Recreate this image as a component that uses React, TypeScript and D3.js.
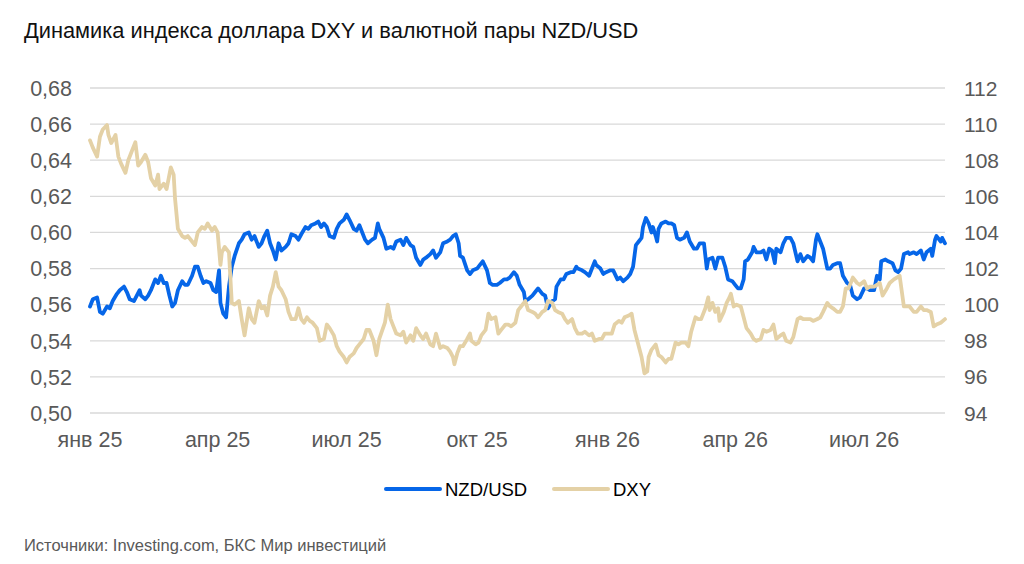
import React from 'react';
import * as d3 from 'd3';

// ---------- DATA ----------
// [days since 2025-01-01, value]
const nzdUsd: [number, number][] = [
  [0,0.559],[2,0.563],[5,0.564],[7,0.556],[9,0.555],[12,0.559],[14,0.558],[16,0.562],[19,0.566],[21,0.568],[24,0.570],[26,0.567],[28,0.563],[31,0.562],[33,0.565],[35,0.568],[36,0.565],[39,0.563],[41,0.565],[43,0.568],[46,0.574],[48,0.572],[50,0.576],[52,0.572],[54,0.572],[56,0.565],[58,0.559],[60,0.561],[62,0.568],[65,0.573],[67,0.571],[69,0.571],[72,0.576],[74,0.581],[76,0.581],[78,0.576],[80,0.572],[82,0.573],[85,0.572],[87,0.568],[89,0.567],[91,0.579],[92,0.561],[94,0.555],[96,0.553],[98,0.570],[100,0.581],[102,0.587],[105,0.594],[107,0.596],[109,0.599],[112,0.600],[114,0.596],[116,0.598],[119,0.592],[121,0.594],[123,0.598],[125,0.601],[127,0.594],[129,0.590],[131,0.585],[133,0.594],[135,0.590],[138,0.592],[140,0.594],[142,0.599],[145,0.598],[147,0.596],[149,0.599],[152,0.603],[154,0.602],[156,0.604],[159,0.605],[161,0.606],[163,0.603],[165,0.605],[167,0.603],[169,0.598],[172,0.597],[174,0.602],[176,0.605],[179,0.607],[181,0.610],[183,0.607],[186,0.602],[188,0.601],[190,0.604],[192,0.600],[194,0.596],[196,0.594],[199,0.596],[201,0.597],[203,0.605],[204,0.602],[207,0.597],[209,0.591],[212,0.592],[214,0.591],[216,0.595],[219,0.596],[221,0.593],[223,0.597],[226,0.593],[228,0.592],[230,0.586],[233,0.582],[235,0.585],[237,0.586],[240,0.588],[242,0.590],[244,0.586],[247,0.589],[249,0.594],[252,0.595],[254,0.596],[256,0.598],[258,0.599],[260,0.594],[261,0.587],[263,0.586],[266,0.579],[268,0.577],[270,0.579],[273,0.580],[275,0.582],[277,0.584],[280,0.579],[282,0.572],[284,0.571],[287,0.571],[289,0.572],[292,0.574],[294,0.574],[296,0.575],[299,0.578],[301,0.576],[303,0.571],[306,0.567],[307,0.562],[309,0.563],[312,0.565],[314,0.567],[316,0.569],[319,0.566],[321,0.565],[323,0.558],[326,0.562],[328,0.563],[329,0.570],[332,0.574],[334,0.574],[336,0.577],[339,0.578],[341,0.578],[343,0.581],[344,0.580],[347,0.579],[349,0.578],[352,0.576],[354,0.580],[356,0.584],[357,0.582],[360,0.580],[362,0.577],[364,0.578],[367,0.579],[369,0.579],[372,0.574],[374,0.575],[376,0.573],[379,0.575],[381,0.577],[383,0.581],[385,0.593],[387,0.595],[389,0.597],[390,0.603],[392,0.608],[394,0.605],[396,0.600],[397,0.603],[399,0.598],[400,0.595],[401,0.602],[403,0.605],[406,0.606],[408,0.605],[410,0.605],[412,0.604],[414,0.597],[416,0.596],[419,0.597],[421,0.600],[423,0.595],[426,0.591],[428,0.591],[430,0.594],[433,0.594],[435,0.580],[436,0.585],[439,0.586],[441,0.580],[443,0.586],[446,0.586],[448,0.581],[450,0.574],[453,0.573],[455,0.571],[457,0.569],[459,0.569],[461,0.574],[462,0.584],[464,0.585],[467,0.589],[468,0.592],[470,0.589],[473,0.589],[475,0.590],[477,0.585],[479,0.591],[481,0.590],[483,0.583],[484,0.591],[487,0.589],[489,0.594],[491,0.597],[494,0.597],[496,0.594],[499,0.584],[501,0.588],[503,0.584],[506,0.587],[508,0.586],[510,0.584],[512,0.596],[513,0.599],[515,0.595],[517,0.591],[520,0.580],[522,0.580],[524,0.582],[527,0.583],[529,0.583],[531,0.576],[534,0.572],[536,0.571],[538,0.565],[541,0.563],[543,0.564],[546,0.569],[548,0.569],[550,0.568],[553,0.568],[555,0.576],[557,0.574],[558,0.584],[561,0.585],[563,0.584],[566,0.583],[568,0.579],[570,0.578],[572,0.580],[574,0.588],[577,0.589],[578,0.588],[581,0.589],[583,0.588],[586,0.590],[588,0.585],[590,0.589],[593,0.591],[594,0.587],[596,0.596],[597,0.598],[600,0.595],[601,0.597],[603,0.594]
];

const dxy: [number, number][] = [
  [0,109.1],[2,108.7],[5,108.2],[7,109.3],[9,109.7],[12,109.95],[13,109.4],[15,108.95],[18,109.4],[20,108.2],[22,107.8],[25,107.3],[27,108.0],[29,108.4],[32,109.0],[34,107.7],[36,107.9],[39,108.3],[41,107.9],[43,107.0],[46,106.6],[48,107.2],[49,106.4],[52,106.7],[54,106.4],[57,107.6],[59,107.2],[60,105.85],[62,104.2],[65,103.8],[67,103.7],[69,103.8],[72,103.5],[74,103.3],[76,104.0],[79,104.3],[81,104.2],[83,104.5],[86,104.1],[88,104.3],[90,104.0],[92,102.2],[93,102.9],[95,103.2],[98,102.9],[100,100.1],[102,100.0],[105,100.2],[107,99.2],[109,98.3],[112,99.8],[114,99.2],[116,99.0],[119,100.2],[121,99.8],[123,99.9],[125,99.4],[127,100.5],[129,101.0],[131,101.8],[133,101.0],[135,100.8],[138,100.3],[140,99.6],[142,99.2],[145,99.2],[147,99.8],[149,99.2],[151,99.0],[153,99.3],[155,99.1],[157,99.0],[160,98.7],[162,98.0],[165,98.1],[167,98.9],[169,98.7],[172,98.3],[174,97.7],[176,97.4],[179,97.1],[181,96.8],[183,97.1],[186,97.3],[188,97.6],[190,97.8],[193,98.1],[195,98.6],[197,98.6],[200,98.0],[202,97.2],[204,98.1],[208,99.0],[210,100.0],[212,99.2],[214,98.8],[216,98.4],[219,98.3],[221,98.5],[223,97.9],[226,98.3],[228,98.0],[230,98.7],[233,98.3],[235,98.1],[237,98.4],[240,97.8],[242,97.7],[244,98.4],[247,97.6],[249,97.7],[252,97.6],[254,97.4],[256,97.1],[257,96.7],[259,97.3],[261,97.7],[263,97.7],[266,98.1],[268,98.4],[269,98.0],[272,97.8],[274,97.9],[276,98.3],[279,98.6],[281,99.5],[283,99.2],[286,99.3],[288,98.4],[290,98.6],[293,98.9],[295,98.9],[297,98.8],[300,99.0],[302,99.7],[304,99.9],[307,100.2],[309,99.7],[312,99.6],[314,99.5],[316,99.3],[319,99.6],[321,99.7],[323,100.2],[326,100.1],[328,99.7],[330,99.6],[333,99.5],[335,99.2],[337,99.0],[340,99.2],[342,98.7],[344,98.4],[347,98.4],[349,98.5],[352,98.3],[354,98.4],[356,98.0],[359,98.1],[361,98.1],[363,98.4],[366,98.4],[368,98.4],[370,98.9],[373,99.1],[375,99.0],[377,99.3],[380,99.4],[382,99.5],[384,98.6],[387,97.7],[389,97.1],[391,96.2],[393,96.3],[394,97.1],[396,97.5],[399,97.8],[401,97.2],[403,97.1],[406,96.8],[408,97.0],[410,97.0],[413,97.9],[415,97.8],[417,97.9],[420,97.9],[422,97.7],[424,98.5],[427,99.3],[429,99.2],[431,99.2],[434,99.8],[436,100.4],[437,99.7],[439,100.1],[441,99.6],[443,99.8],[444,99.1],[447,99.6],[449,100.1],[451,100.4],[452,100.6],[454,99.9],[456,100.0],[459,99.9],[461,99.3],[463,98.7],[466,98.4],[468,98.1],[470,98.0],[473,98.1],[475,98.6],[477,98.5],[480,98.6],[482,98.9],[484,98.1],[487,98.3],[489,98.4],[491,98.0],[494,97.9],[496,98.2],[499,99.2],[501,99.3],[503,99.2],[506,99.2],[508,99.2],[510,99.1],[513,99.2],[515,99.3],[517,99.6],[520,100.1],[522,99.9],[524,99.8],[527,99.6],[529,99.6],[531,99.9],[533,100.9],[535,100.9],[537,101.3],[538,101.5],[541,101.2],[543,101.1],[546,101.3],[548,100.9],[550,101.0],[553,101.0],[555,101.1],[557,101.2],[559,100.5],[562,100.9],[564,101.2],[567,101.4],[569,101.5],[571,101.6],[574,99.9],[576,99.9],[578,99.9],[581,99.6],[583,99.6],[586,99.9],[588,99.7],[590,99.7],[593,99.6],[595,98.8],[597,98.9],[600,99.0],[603,99.2]
];

const xTickDates = ['2025-01-01', '2025-04-01', '2025-07-01', '2025-10-01', '2026-01-01', '2026-04-01', '2026-07-01'];
const xTickLabels = ['янв 25', 'апр 25', 'июл 25', 'окт 25', 'янв 26', 'апр 26', 'июл 26'];
const leftDomain: [number, number] = [0.5, 0.68];
const rightDomain: [number, number] = [94, 112];
const seriesNames = ['NZD/USD', 'DXY'];

const TITLE = 'Динамика индекса доллара DXY и валютной пары NZD/USD';
const SOURCE = 'Источники: Investing.com, БКС Мир инвестиций';

// ---------- STYLE ----------
const W = 1024, H = 564;
const M = { left: 90, right: 945, top: 88, bottom: 413 };
const BLUE = '#0666e8';
const TAN = '#e4d1a6';
const GRID = '#d9d9d9';
const AXIS_TXT = '#595959';
const FONT = '"Liberation Sans", Arial, sans-serif';

const dayToDate = (d: number) => new Date(2025, 0, 1 + d);
const parseDate = (s: string) => {
  const [y, m, d] = s.split('-').map(Number);
  return new Date(y, m - 1, d);
};

export default function App() {
  const endDay = nzdUsd[nzdUsd.length - 1][0];
  const x = d3.scaleTime().domain([dayToDate(0), dayToDate(endDay)]).range([M.left, M.right]);
  const yL = d3.scaleLinear().domain(leftDomain).range([M.bottom, M.top]);
  const yR = d3.scaleLinear().domain(rightDomain).range([M.bottom, M.top]);

  const lineL = d3.line<[number, number]>().x(d => x(dayToDate(d[0]))).y(d => yL(d[1]));
  const lineR = d3.line<[number, number]>().x(d => x(dayToDate(d[0]))).y(d => yR(d[1]));

  const leftTicks = yL.ticks(9);
  const rightTicks = yR.ticks(9);
  const fmtL = (v: number) => d3.format('.2f')(v).replace('.', ',');

  return (
    <svg width={W} height={H} style={{ position: 'fixed', left: 0, top: 0, background: '#fff' }} fontFamily={FONT}>
      <rect x={0} y={0} width={W} height={H} fill="#fff" />
      <text x={24} y={38} fontSize={21.8} fill="#111">{TITLE}</text>

      {leftTicks.map((t, i) => (
        <line key={'g' + i} x1={M.left} x2={M.right} y1={yL(t)} y2={yL(t)} stroke={GRID} strokeWidth={1.3} />
      ))}
      {leftTicks.map((t, i) => (
        <text key={'l' + i} x={72} y={yL(t)} dy="0.36em" textAnchor="end" fontSize={21.5} fill={AXIS_TXT}>{fmtL(t)}</text>
      ))}
      {rightTicks.map((t, i) => (
        <text key={'r' + i} x={964} y={yR(t)} dy="0.36em" textAnchor="start" fontSize={21} fill={AXIS_TXT}>{t}</text>
      ))}
      {xTickDates.map((d, i) => (
        <text key={'x' + i} x={x(parseDate(d))} y={447} textAnchor="middle" fontSize={21.5} fill={AXIS_TXT}>{xTickLabels[i]}</text>
      ))}

      <path d={lineL(nzdUsd) || ''} fill="none" stroke={BLUE} strokeWidth={3.8} strokeLinejoin="round" strokeLinecap="round" />
      <path d={lineR(dxy) || ''} fill="none" stroke={TAN} strokeWidth={3.8} strokeLinejoin="round" strokeLinecap="round" />

      <g>
        <line x1={386} x2={440} y1={489} y2={489} stroke={BLUE} strokeWidth={4} strokeLinecap="round" />
        <text x={445} y={489} dy="0.36em" fontSize={18.5} fill="#000">{seriesNames[0]}</text>
        <line x1={554} x2={608} y1={489} y2={489} stroke={TAN} strokeWidth={4} strokeLinecap="round" />
        <text x={613} y={489} dy="0.36em" fontSize={18.5} fill="#000">{seriesNames[1]}</text>
      </g>

      <text x={24} y={551} fontSize={16.5} fill={AXIS_TXT}>{SOURCE}</text>
    </svg>
  );
}
